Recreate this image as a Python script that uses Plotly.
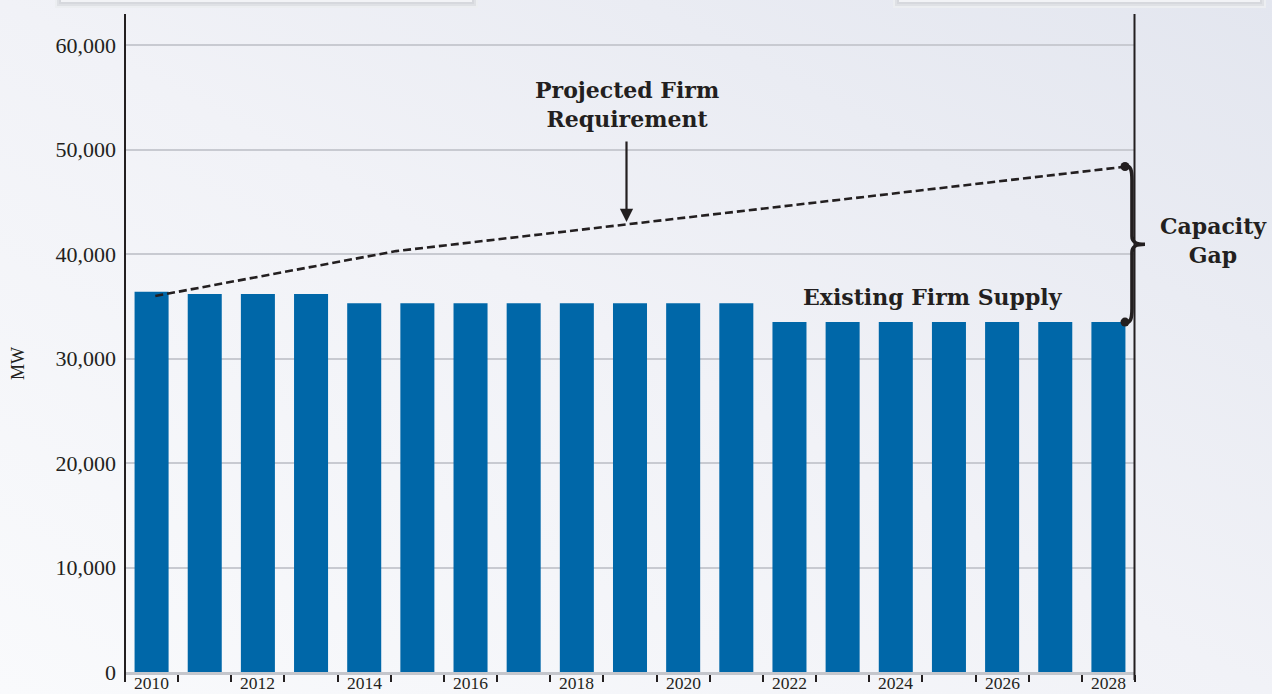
import plotly.graph_objects as go
import base64

# ---------------- data ----------------
years = list(range(2010, 2029))
supply_mw = [36400, 36200, 36200, 36200,
             35300, 35300, 35300, 35300, 35300, 35300, 35300, 35300,
             33500, 33500, 33500, 33500, 33500, 33500, 33500]
req_years = [2010.07, 2014.6, 2028.35]
req_mw = [36000, 40300, 48400]
label_years = [2010, 2012, 2014, 2016, 2018, 2020, 2022, 2024, 2026, 2028]
y_ticks = [0, 10000, 20000, 30000, 40000, 50000, 60000]

FONT = "Liberation Serif"
BOLDFONT = "DejaVu Serif"
BAR = "#0067a8"
INK = "#231f20"

fig = go.Figure()

fig.add_trace(go.Bar(x=years, y=supply_mw, width=0.64, marker_color=BAR,
                     marker_line_width=0, showlegend=False))
fig.add_trace(go.Scatter(x=req_years, y=req_mw, mode="lines",
                         line=dict(color=INK, width=2.6, dash="8px,4px"),
                         showlegend=False))

# background gradient
svg = ('<svg xmlns="http://www.w3.org/2000/svg" width="1272" height="694">'
       '<defs><linearGradient id="g" x1="0" y1="1" x2="1" y2="0">'
       '<stop offset="0" stop-color="#f9fafc"/>'
       '<stop offset="0.5" stop-color="#f1f2f7"/>'
       '<stop offset="1" stop-color="#e3e6ef"/>'
       '</linearGradient></defs>'
       '<rect width="1272" height="694" fill="url(#g)"/></svg>')
src = "data:image/svg+xml;base64," + base64.b64encode(svg.encode()).decode()
fig.add_layout_image(dict(source=src, xref="paper", yref="paper", x=-125/1010, y=(672)/658,
                          sizex=1272/1010, sizey=694/658, xanchor="left", yanchor="top",
                          sizing="stretch", layer="below"))

# helpers for decorative shapes
def px2paper_x(px):
    return (px - 125) / 1010

def px2paper_y(py):
    return (672 - py) / 658

shapes = []
# top cards (soft shadow edge)
for x0, x1 in [(55, 478), (893, 1266)]:
    for k, c in enumerate(["#eceef1", "#dfe1e5", "#d6d8dd", "#f2f3f6"]):
        shapes.append(dict(type="rect", xref="paper", yref="paper",
                           x0=px2paper_x(x0 + 2 * k), x1=px2paper_x(x1 - 2 * k),
                           y0=px2paper_y(8 - 2 * k), y1=px2paper_y(-20),
                           fillcolor=c, line_width=0, layer="below"))
# left and right frame lines
shapes.append(dict(type="line", xref="paper", yref="paper", x0=0, x1=0,
                   y0=px2paper_y(680), y1=px2paper_y(14), line=dict(color=INK, width=2)))
shapes.append(dict(type="line", xref="paper", yref="paper", x0=px2paper_x(1134.5), x1=px2paper_x(1134.5),
                   y0=px2paper_y(680), y1=px2paper_y(14), line=dict(color=INK, width=2)))

# brace between requirement end and supply end
top = req_mw[-1]
bot = supply_mw[-1]
mid = (top + bot) / 2
u = 95.7  # MW per pixel
xa = px2paper_x(1124)
xb = px2paper_x(1132)
xt = px2paper_x(1145)
path = (f"M {xa},{top} C {px2paper_x(1131)},{top+2*u} {xb},{top-4*u} {xb},{top-14*u} "
        f"L {xb},{mid+8*u} C {xb},{mid+2*u} {px2paper_x(1136)},{mid} {xt},{mid} "
        f"C {px2paper_x(1136)},{mid} {xb},{mid-2*u} {xb},{mid-8*u} "
        f"L {xb},{bot+14*u} C {xb},{bot+4*u} {px2paper_x(1131)},{bot-2*u} {xa},{bot}")
shapes.append(dict(type="path", xref="paper", yref="y", path=path,
                   line=dict(color=INK, width=3.6)))
for yy in (top, bot):
    shapes.append(dict(type="circle", xref="paper", yref="y",
                       x0=px2paper_x(1120.5), x1=px2paper_x(1129.5),
                       y0=yy - 4.5 * u, y1=yy + 4.5 * u,
                       fillcolor=INK, line_width=0))

ann_font = dict(family=BOLDFONT, size=22, color=INK)
annotations = [
    dict(text="<b>Projected Firm<br>Requirement</b>", xref="paper", yref="paper",
         x=px2paper_x(627), y=px2paper_y(104), xanchor="center", yanchor="middle",
         showarrow=False, font=ann_font, align="center"),
    dict(text="", xref="paper", yref="paper", x=px2paper_x(626.5), y=px2paper_y(222),
         ax=0, ay=-82, axref="pixel", ayref="pixel",
         showarrow=True, arrowhead=2, arrowsize=1.2, arrowwidth=2.2, arrowcolor=INK),
    dict(text="<b>Existing Firm Supply</b>", xref="paper", yref="paper",
         x=px2paper_x(933), y=px2paper_y(297), xanchor="center", yanchor="middle",
         showarrow=False, font=ann_font),
    dict(text="<b>Capacity<br>Gap</b>", xref="paper", yref="paper",
         x=px2paper_x(1213), y=px2paper_y(240), xanchor="center", yanchor="middle",
         showarrow=False, font=ann_font, align="center"),
    dict(text="MW", xref="paper", yref="paper", x=px2paper_x(18), y=px2paper_y(364),
         xanchor="center", yanchor="middle", textangle=-90, showarrow=False,
         font=dict(family=FONT, size=18, color=INK)),
]
# year labels under the bars
for yr in label_years:
    annotations.append(dict(text=str(yr), xref="x", yref="paper", x=yr, y=px2paper_y(694),
                            xanchor="center", yanchor="bottom", showarrow=False,
                            font=dict(family=FONT, size=17.5, color=INK),
                            borderpad=0))

fig.update_layout(
    width=1272, height=694,
    margin=dict(l=125, r=137, t=14, b=22, autoexpand=False),
    paper_bgcolor="rgba(0,0,0,0)", plot_bgcolor="rgba(0,0,0,0)",
    bargap=0.36,
    shapes=shapes, annotations=annotations,
    xaxis=dict(range=[2009.5, 2028.5], tickvals=label_years,
               showticklabels=False, ticks="",
               showgrid=False, zeroline=False, automargin=False,
               showline=True, linecolor="#c4c6cc", linewidth=3,
               minor=dict(tick0=2009.5, dtick=1, ticks="outside", ticklen=7,
                          tickwidth=2, tickcolor=INK, showgrid=False)),
    yaxis=dict(range=[0, 63000], tickvals=y_ticks,
               ticktext=[f"{v:,}" for v in y_ticks], ticks="",
               showgrid=True, gridcolor="#c8cad1", gridwidth=2,
               zeroline=False, showline=False, automargin=False,
               ticklabelstandoff=8,
               tickfont=dict(family=FONT, size=22, color=INK)),
)

fig.write_html("out.html")
